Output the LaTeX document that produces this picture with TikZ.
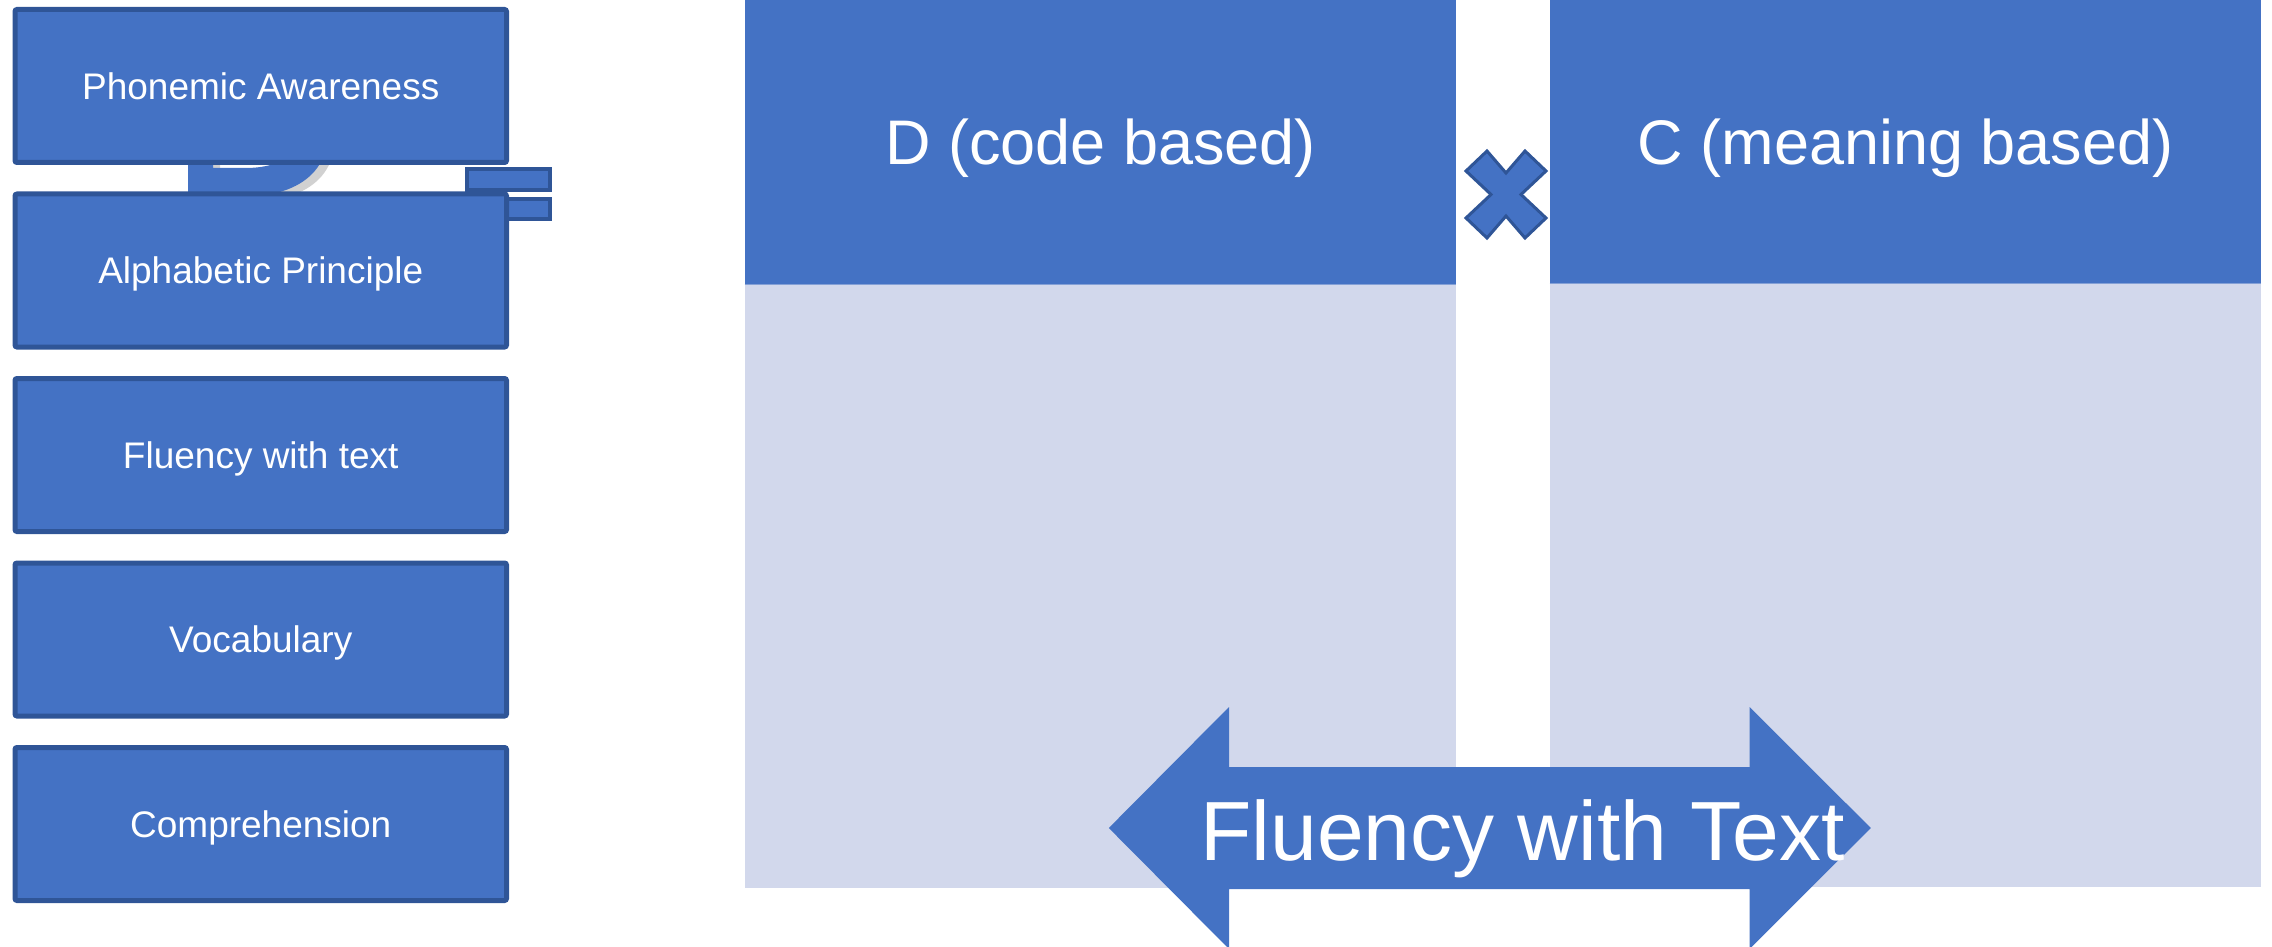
\documentclass[tikz,border=0pt]{standalone}
\usepackage{fontspec}
\setmainfont{Liberation Sans}
\definecolor{fillblue}{HTML}{4472C4}
\definecolor{edgeblue}{HTML}{2F5597}
\definecolor{paleblue}{HTML}{D2D8EC}
\definecolor{shadowgray}{HTML}{BDBDBD}
\begin{document}
\begin{tikzpicture}[x=0.5pt,y=-0.5pt,
  leftbox/.style={draw=edgeblue, fill=fillblue, line width=2.5pt, rounded corners=1pt,
    minimum width=245.75pt, minimum height=76.5pt, inner sep=0pt,
    text=white, font=\fontsize{18.5pt}{20pt}\selectfont, text height=13.25pt, text depth=0pt},
  headbox/.style={fill=fillblue, minimum width=355.5pt, inner sep=0pt,
    text=white, font=\fontsize{31.5pt}{34pt}\selectfont, text height=22.55pt, text depth=0pt},
  bodybox/.style={fill=paleblue, minimum width=355.5pt, inner sep=0pt},
  barstyle/.style={draw=edgeblue, fill=fillblue, line width=2pt},
  crossstyle/.style={draw=edgeblue, fill=fillblue, line width=1.5pt, line join=miter},
  arrowstyle/.style={fill=fillblue},
  seam/.style={draw=fillblue!55!paleblue, line width=0.75pt}
]
\useasboundingbox (0,0) rectangle (2272,947);

% hidden big "D" with shadow (mostly behind the boxes)
\fill[shadowgray, opacity=0.7, even odd rule, xshift=3.5pt, yshift=-2.5pt]
  (188,40) -- (188,197) -- (240,197) .. controls (290,197) and (326,178) .. (328,135)
  .. controls (330,80) and (290,40) .. (240,40) -- cycle
  (213,65) -- (213,168) -- (245,168) .. controls (285,168) and (304,150) .. (305,125)
  .. controls (306,90) and (280,65) .. (245,65) -- cycle;
\fill[fillblue, even odd rule]
  (188,40) -- (188,197) -- (240,197) .. controls (290,197) and (326,178) .. (328,135)
  .. controls (330,80) and (290,40) .. (240,40) -- cycle
  (213,65) -- (213,168) -- (245,168) .. controls (285,168) and (304,150) .. (305,125)
  .. controls (306,90) and (280,65) .. (245,65) -- cycle;

% "=" bars
\draw[barstyle] (467,169) rectangle (550,190);
\draw[barstyle] (467,199) rectangle (550,219);

% left column
\node[leftbox] (pa) at (260.75,86)    {Phonemic Awareness};
\node[leftbox] (ap) at (260.75,270.5) {Alphabetic Principle};
\node[leftbox] (ft) at (260.75,455)   {Fluency with text};
\node[leftbox] (vo) at (260.75,639.5) {Vocabulary};
\node[leftbox] (co) at (260.75,824)   {Comprehension};

% right panels
\node[bodybox, minimum height=302pt] (dbody) at (1100.5,586) {};
\node[headbox, minimum height=142pt] (dtop) at (1100.5,142) {D (code based)};
\node[bodybox, minimum height=302pt] (cbody) at (1905.5,585) {};
\node[headbox, minimum height=141.5pt] (ctop) at (1905.5,141.5) {C (meaning based)};
\draw[seam] (dtop.south west) -- (dtop.south east);
\draw[seam] (ctop.south west) -- (ctop.south east);

% multiply sign
\draw[crossstyle] (1466,171) -- (1487,151) -- (1506,173) -- (1525,151) -- (1546,171)
  -- (1521,194.5) -- (1546,218) -- (1525,238) -- (1506,216) -- (1487,238)
  -- (1466,218) -- (1491,194.5) -- cycle;

% double arrow
\fill[arrowstyle] (1108.8,828) -- (1229,707) -- (1229,767) -- (1749.5,767) -- (1749.5,707)
  -- (1870.8,828) -- (1749.5,949) -- (1749.5,889) -- (1229,889) -- (1229,949) -- cycle;
\node[anchor=base, text=white, inner sep=0pt, font=\fontsize{42pt}{46pt}\selectfont]
  (fluency) at (1522.5,860.7) {Fluency with Text};
\end{tikzpicture}
\end{document}
